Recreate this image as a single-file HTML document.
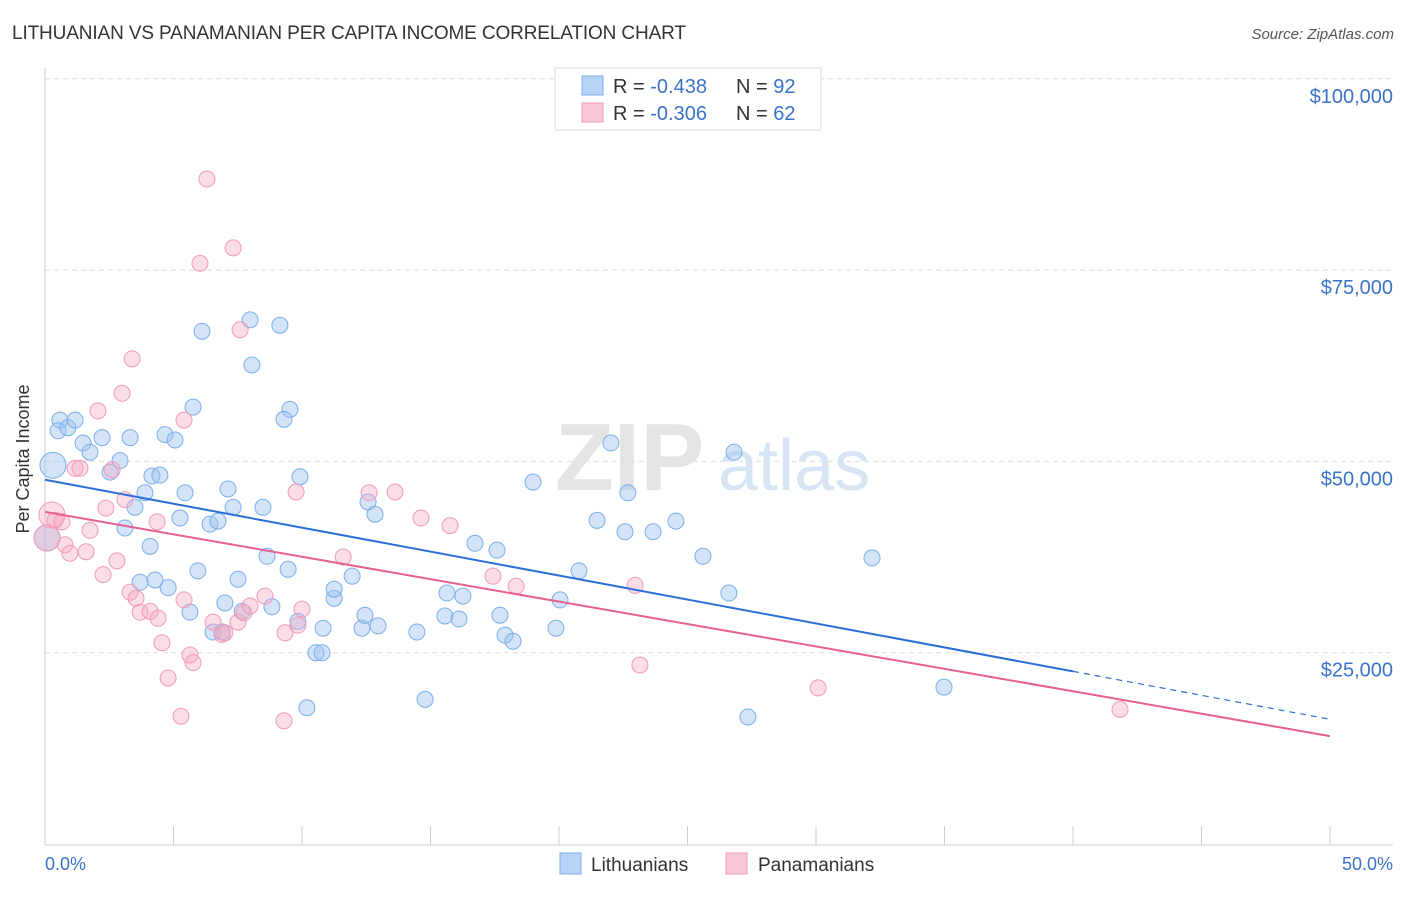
<!DOCTYPE html>
<html><head><meta charset="utf-8"><style>
body{margin:0;background:#fff;font-family:"Liberation Sans",sans-serif}
svg text{font-family:"Liberation Sans",sans-serif}
</style></head><body>
<svg id="chart" width="1406" height="892" viewBox="0 0 1406 892">
<text x="12" y="39" font-size="19" fill="#333" textLength="674">LITHUANIAN VS PANAMANIAN PER CAPITA INCOME CORRELATION CHART</text>
<text x="1394" y="39" font-size="15" fill="#555" font-style="italic" text-anchor="end">Source: ZipAtlas.com</text>
<g id="grid"></g>
<g>
<text x="555" y="490" font-size="96" fill="#e4e4e4" font-family="Liberation Serif" font-weight="bold">ZIP</text>
<text x="718" y="490" font-size="72" fill="#d6e4f4">atlas</text>
</g>
<line x1="45" y1="68" x2="45" y2="845" stroke="#ccc"/>
<line x1="45" y1="845" x2="1393" y2="845" stroke="#ccc"/>
<g id="ticks"></g>
<g id="blue"></g>
<g id="pink"></g>
<g id="lines"></g>
<text x="25" y="455" font-size="18" fill="#333" text-anchor="middle" transform="rotate(-90 29 455)">Per Capita Income</text>
<text x="45" y="870" font-size="18" fill="#3b73c9">0.0%</text>
<text x="1393" y="870" font-size="18" fill="#3b73c9" text-anchor="end">50.0%</text>
<g>
<rect x="555" y="68" width="266" height="62" fill="#fff" stroke="#ddd"/>
<rect x="582" y="76" width="21" height="19" fill="#b8d3f5" stroke="#7aaee8"/>
<rect x="582" y="103" width="21" height="19" fill="#f8c8d7" stroke="#f09ab8"/>
<text x="613" y="93" font-size="20" fill="#333">R = <tspan fill="#3b73c9">-0.438</tspan><tspan x="736">N = </tspan><tspan fill="#3b73c9">92</tspan></text>
<text x="613" y="120" font-size="20" fill="#333">R = <tspan fill="#3b73c9">-0.306</tspan><tspan x="736">N = </tspan><tspan fill="#3b73c9">62</tspan></text>
</g>
<g>
<rect x="560" y="853" width="21" height="21" fill="#b8d3f5" stroke="#7aaee8"/>
<text x="591" y="871" font-size="19" fill="#333">Lithuanians</text>
<rect x="726" y="853" width="21" height="21" fill="#f8c8d7" stroke="#f09ab8"/>
<text x="758" y="871" font-size="19" fill="#333">Panamanians</text>
</g>
</svg>
<script>
const yTicks=[25000,50000,75000,100000];
const yTickLabels=["$25,000","$50,000","$75,000","$100,000"];
const xTicks=[0,5,10,15,20,25,30,35,40,45,50];
const blueX=[0.31,0.58,0.51,0.89,1.17,1.48,1.75,2.22,2.53,2.92,3.31,3.50,3.89,4.16,4.47,4.67,5.06,5.45,5.25,5.76,6.11,6.42,6.73,7.12,7.32,7.51,7.00,7.98,8.05,8.48,8.64,9.14,9.53,9.30,9.92,9.46,8.83,7.67,6.54,6.89,5.95,5.64,4.79,3.70,9.84,10.19,10.54,10.78,10.82,11.25,11.25,11.95,12.57,12.84,12.33,12.45,12.96,14.47,14.79,15.64,15.56,16.11,16.26,16.73,17.59,17.70,17.90,18.21,18.99,19.88,20.04,20.78,21.48,22.02,22.57,22.68,23.66,24.55,25.60,26.61,26.81,27.35,32.18,34.98,4.28,3.11,4.09,0.08];
const blueY=[49.5,55.4,54.0,54.4,55.4,52.4,51.2,53.1,48.6,50.1,53.1,44.0,45.9,48.1,48.2,53.5,52.8,45.9,42.6,57.1,67.0,41.8,42.2,46.4,44.0,34.6,31.5,68.5,62.6,44.0,37.6,67.8,56.8,55.5,48.0,35.9,31.0,30.4,27.7,27.7,35.7,30.3,33.5,34.2,29.1,17.8,25.0,25.0,28.2,32.1,33.3,35.0,44.7,43.1,28.2,29.9,28.5,27.7,18.9,32.8,29.8,29.4,32.4,39.3,38.4,29.9,27.3,26.5,47.3,28.2,31.9,35.7,42.3,52.4,40.8,45.9,40.8,42.2,37.6,32.8,51.2,16.6,37.4,20.5,34.5,41.3,38.9,40.0];
const pinkX=[0.27,0.39,0.66,0.78,0.97,1.17,1.36,1.60,1.75,2.06,2.26,2.37,2.61,2.80,3.0,3.11,3.31,3.39,3.54,3.70,4.09,4.36,4.40,4.55,4.79,5.29,5.41,5.41,5.64,5.76,6.03,6.30,6.54,6.89,7.0,7.32,7.51,7.59,7.74,7.98,8.56,9.34,9.30,9.77,9.84,10.0,11.60,12.61,13.62,14.63,15.76,17.43,18.33,22.96,23.15,30.08,41.83,0.08];
const pinkY=[43.0,42.3,42.1,39.1,38.0,49.1,49.1,38.2,41.0,56.6,35.2,43.9,48.9,37.0,58.9,45.0,32.9,63.4,32.1,30.3,30.4,42.1,29.5,26.3,21.7,16.7,31.9,55.4,24.7,23.7,75.9,86.9,29.0,27.4,27.6,77.9,29.0,67.2,30.2,31.1,32.4,27.6,16.1,46.0,28.6,30.7,37.5,45.9,46.0,42.6,41.6,35.0,33.7,33.8,23.4,20.4,17.6,40.0];
const blueTrend=[47.6,16.3];
const pinkTrend=[43.4,14.1];
const NS="http://www.w3.org/2000/svg";
const sx=v=>45+v/50*1285;
const sy=v=>844-v/25000*191.3;
function mk(tag,attrs,parent){const e=document.createElementNS(NS,tag);for(const k in attrs)e.setAttribute(k,attrs[k]);parent.appendChild(e);return e;}
const grid=document.getElementById('grid');
yTicks.forEach((t,i)=>{
 const l=mk('line',{x1:45,x2:1393,y1:sy(t),y2:sy(t),stroke:'#ddd','stroke-dasharray':'5,4'},grid);
 
 
 const tx=mk('text',{x:1393,y:sy(t)+24,'font-size':20,fill:'#3b73c9','text-anchor':'end'},grid);
 tx.textContent=yTickLabels[i];
 
 
});
const ticks=document.getElementById('ticks');
xTicks.forEach(t=>{
 const l=mk('line',{x1:sx(t),x2:sx(t),y1:826,y2:845,stroke:'#ccc'},ticks);
 
 
});
function pts(xs,ys,g,fill,stroke,name){
 xs.forEach((x,i)=>{
  const big=(i===0||i===xs.length-1);
  const c=mk('circle',{cx:sx(x),cy:sy(ys[i]*1000),r:big?13:8,fill:fill,stroke:stroke,'stroke-width':1},g);
  
  
 });
}
pts(blueX,blueY,document.getElementById('blue'),'rgba(160,196,240,0.45)','#7aaee8','lithuanian-point');
pts(pinkX,pinkY,document.getElementById('pink'),'rgba(244,170,195,0.4)','#f09ab8','panamanian-point');
const lines=document.getElementById('lines');
const bAt=x=>blueTrend[0]+(blueTrend[1]-blueTrend[0])*x/50;
const b1=mk('line',{x1:sx(0),y1:sy(bAt(0)*1000),x2:sx(40),y2:sy(bAt(40)*1000),stroke:'#2b6fd6','stroke-width':2},lines);


const b2=mk('line',{x1:sx(40),y1:sy(bAt(40)*1000),x2:sx(50),y2:sy(bAt(50)*1000),stroke:'#2b6fd6','stroke-width':1.2,'stroke-dasharray':'6,5'},lines);


const p1=mk('line',{x1:sx(0),y1:sy(pinkTrend[0]*1000),x2:sx(50),y2:sy(pinkTrend[1]*1000),stroke:'#e8608f','stroke-width':2},lines);


</script>
</body></html>
